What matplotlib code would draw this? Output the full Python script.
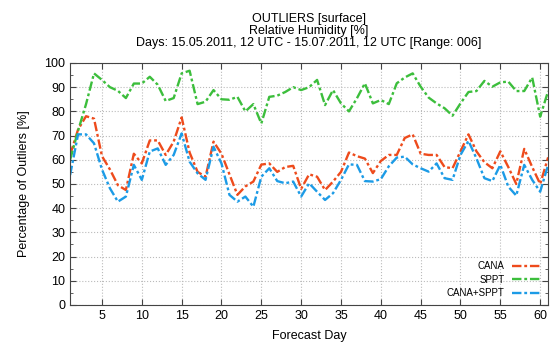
import matplotlib
matplotlib.use("Agg")
from matplotlib import pyplot as plt
from matplotlib.ticker import MultipleLocator

days = list(range(1, 62))

cana = [62, 72.5, 78, 77, 61.5, 56, 49.5, 47.5, 62.5, 58.5,
        68, 68, 62, 67.5, 77.5, 63, 55, 53, 67.5, 62.5,
        54, 45.5, 49, 51, 58, 58.5, 55, 57, 57.5, 48,
        54, 53, 47.5, 51, 55, 63, 61.5, 60.5, 54.5, 59.5,
        62, 62, 69, 70.5, 62.5, 62, 62, 57, 56.5, 63.5,
        70.5, 63.5, 59, 56.5, 63.5, 57, 50, 64.5, 57, 50,
        61]
sppt = [60, 72, 83, 95.7, 93, 90, 88.5, 85.5, 91.5, 91.5,
        94.3, 91, 84.3, 85.5, 95.7, 96.8, 83, 84, 88.8, 85,
        84.8, 86, 80, 83, 75, 86, 86.5, 88, 90, 88.8,
        90, 93, 82.6, 88.8, 83.3, 80, 85.4, 91.6, 83.3, 84.7,
        83, 91.6, 94, 95.7, 90.2, 85.7, 83.3, 81.3, 78.2, 83.3,
        88, 88.4, 92.6, 90.2, 92, 92.3, 88.4, 88.4, 94, 77.8,
        88.4]
cana_sppt = [53.7, 70.5, 70.5, 66.8, 56, 48.2, 42.7, 44.8, 57.9, 51.7,
             63.4, 64.7, 57.9, 62, 70.9, 59.2, 54.4, 51.7, 65.4, 58.5,
             45.5, 42.7, 44.8, 40.6, 53, 56.5, 51.2, 50.3, 51, 44.8,
             50.3, 46.8, 43.4, 46.2, 51.7, 58.1, 57.9, 51.2, 51, 52,
             57.3, 60.9, 61.3, 58.1, 56.5, 55.1, 58.5, 52.4, 51.7, 62,
             67.8, 60.6, 52.4, 51.2, 57.9, 48.9, 45.2, 57.9, 51.7, 46.8,
             57.9]

plt.rcParams["font.family"] = ["Liberation Sans", "DejaVu Sans"]

fig = plt.figure(figsize=(5.52, 3.46), dpi=100)
ax = fig.add_axes([0.127, 0.1185, 0.866, 0.6995])

dash = (0, (4, 1.2, 1.2, 1.2))
ax.plot(days, cana, color="#ee4b1c", lw=1.7, linestyle=dash, label="CANA")
ax.plot(days, sppt, color="#3cbe3c", lw=1.7, linestyle=dash, label="SPPT")
ax.plot(days, cana_sppt, color="#1c9be6", lw=1.7, linestyle=dash, label="CANA+SPPT")

ax.set_xlim(1, 61)
ax.set_ylim(0, 100)
ax.xaxis.set_major_locator(MultipleLocator(5))
ax.yaxis.set_major_locator(MultipleLocator(10))
ax.yaxis.set_minor_locator(MultipleLocator(5))
ax.tick_params(direction="in", which="both", top=True, right=True,
               labelsize=9, color="#444444")
ax.tick_params(which="major", length=4)
ax.tick_params(which="minor", length=2)
ax.grid(True, which="major", linestyle=":", color="#bbbbbb", lw=0.8)
for s in ax.spines.values():
    s.set_color("#444444")

ax.set_xlabel("Forecast Day", fontsize=9, labelpad=6)
ax.set_ylabel("Percentage of Outliers [%]", fontsize=9, labelpad=10)
ax.set_title("OUTLIERS [surface]\nRelative Humidity [%]\n"
             "Days: 15.05.2011, 12 UTC - 15.07.2011, 12 UTC [Range: 006]",
             fontsize=9, linespacing=1.0, pad=12)

ax.legend(loc="lower right", markerfirst=False, frameon=False, fontsize=7,
          handlelength=3.0, labelspacing=0.35, borderaxespad=0.3)

fig.savefig("out.png", dpi=100)
